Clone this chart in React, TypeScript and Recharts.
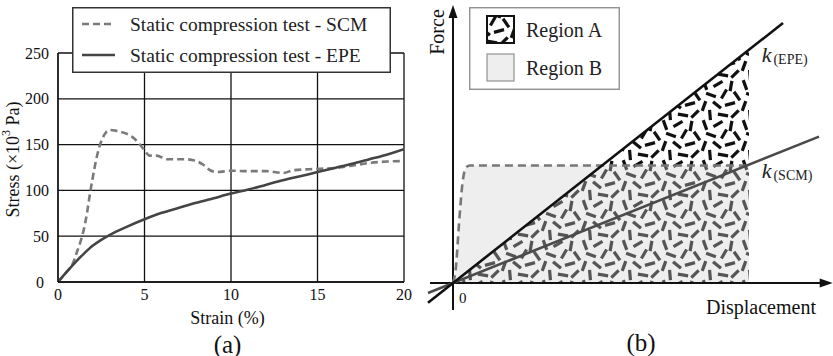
import React from 'react';
import {
  LineChart,
  Line,
  XAxis,
  YAxis,
  CartesianGrid,
  Legend,
  Label,
  ComposedChart,
  Area,
  ReferenceLine,
  ReferenceDot,
} from 'recharts';

const FONT = 'Liberation Serif, DejaVu Serif, serif';

// ---------- (a) static compression test: stress vs strain ----------
const strainTicks = [0, 5, 10, 15, 20];
const stressTicks = [0, 50, 100, 150, 200, 250];

const scmStrain = [
  0, 0.5, 0.85, 1.1, 1.3, 1.5, 1.7, 1.85, 2.0, 2.2, 2.4, 2.6, 2.8, 3.0, 3.4, 3.8, 4.25, 4.65, 4.95,
  5.3, 5.7, 6.3, 7.4, 8.0, 8.4, 8.8, 9.2, 10, 11, 12, 13, 13.6, 15, 16, 17, 18, 19, 20,
];
const scmStress = [
  0, 11, 20, 33, 44, 58, 78, 97, 113, 133, 148, 158, 164, 166, 165, 163, 159, 152, 145, 138, 138,
  134, 134, 132, 128, 122, 120, 121.5, 121, 121, 119, 122, 123.5, 124.5, 127, 130, 131.5, 132,
];

const epeStrain = [0, 0.5, 1, 1.5, 2, 2.5, 3, 4, 5, 6, 7, 8, 9, 10, 11, 12, 13, 14, 15, 16, 17, 18, 19, 20];
const epeStress = [
  0, 11, 21.5, 31, 39.5, 46, 51.5, 60.5, 68.5, 75.5, 81, 86.5, 91.5, 96.5, 101, 106, 111, 115.5,
  120, 124.5, 129, 134, 139, 145,
];

const seriesNames = ['Static compression test - SCM', 'Static compression test - EPE'];

const scmRows = scmStrain.map((s, i) => ({ strain: s, stress: scmStress[i] }));
const epeRows = epeStrain.map((s, i) => ({ strain: s, stress: epeStress[i] }));

// ---------- (b) force vs displacement schematic ----------
const regionNames = ['Region A', 'Region B'];

// dashed SCM response bounding Region B
const scmCurveDisp = [0, 0.25, 0.65, 0.95, 1.15, 1.35, 1.7, 29.6];
const scmCurveForce = [0, 1.2, 6.6, 10, 11.2, 11.6, 11.75, 11.75];

// stiffness lines
const epeLineDisp = [-2.5, 33];
const epeLineForce = [-1.97, 26];
const scmLineDisp = [-2.5, 36.6];
const scmLineForce = [-1.0, 14.64];

// Region A: triangle under k(EPE), split at the SCM plateau
const regionALowerDisp = [0, 14.9, 29.6];
const regionALowerForce = [0, 11.75, 11.75];
const regionAUpperDisp = [14.9, 29.6];
const regionAUpperLow = [11.75, 11.75];
const regionAUpperHigh = [11.75, 23.3];

const scmCurveRows = scmCurveDisp.map((d, i) => ({ d, f: scmCurveForce[i] }));
const epeLineRows = epeLineDisp.map((d, i) => ({ d, f: epeLineForce[i] }));
const scmLineRows = scmLineDisp.map((d, i) => ({ d, f: scmLineForce[i] }));
const regionALowerRows = regionALowerDisp.map((d, i) => ({ d, f: regionALowerForce[i] }));
const regionAUpperRows = regionAUpperDisp.map((d, i) => ({
  d,
  f: [regionAUpperLow[i], regionAUpperHigh[i]],
}));

// ---------- hatch texture of short random dashes ----------
const TILE = 40;
const DASH_HALF = 5.2;
const dashMarks: [number, number, number][] = [
  [5, 5, 70], [18, 4, 150], [31, 6, 100],
  [11, 15, 20], [24, 14, 120], [37, 16, 55],
  [4, 26, 110], [17, 25, 40], [30, 24, 165],
  [10, 35, 85], [23, 35, 10], [35, 34, 135],
];
const OFFSETS = [-TILE, 0, TILE];

const DashPattern = ({ id, color }: { id: string; color: string }) => (
  <pattern id={id} width={TILE} height={TILE} patternUnits="userSpaceOnUse">
    {OFFSETS.flatMap((ox) =>
      OFFSETS.flatMap((oy) =>
        dashMarks.map(([cx, cy, a], i) => {
          const r = (a * Math.PI) / 180;
          const dx = Math.cos(r) * DASH_HALF;
          const dy = Math.sin(r) * DASH_HALF;
          return (
            <line
              key={`${ox}_${oy}_${i}`}
              x1={cx + ox - dx}
              y1={cy + oy - dy}
              x2={cx + ox + dx}
              y2={cy + oy + dy}
              stroke={color}
              strokeWidth={3.2}
            />
          );
        }),
      ),
    )}
  </pattern>
);

const SharedDefs = () => (
  <svg width={0} height={0} style={{ position: 'absolute', left: 0, top: 0 }} aria-hidden="true">
    <defs>
      <DashPattern id="dashBlack" color="#111" />
      <DashPattern id="dashGray" color="#555" />
    </defs>
  </svg>
);

// ---------- (a) pieces ----------
const StressTick = (props: any) => {
  const { x, y, payload } = props;
  return (
    <text
      x={x - (payload.value === 0 ? 14 : 9)}
      y={y}
      textAnchor="end"
      dominantBaseline="central"
      fontSize={16}
      fontFamily={FONT}
      fill="#111"
    >
      {payload.value}
    </text>
  );
};

const StrainTick = (props: any) => {
  const { x, y, payload } = props;
  return (
    <text
      x={x}
      y={y + 12.5}
      textAnchor="middle"
      dominantBaseline="central"
      fontSize={16}
      fontFamily={FONT}
      fill="#111"
    >
      {payload.value}
    </text>
  );
};

const StressLabel = (props: any) => {
  const vb = props.viewBox || { x: 0, y: 53, width: 58, height: 229 };
  const cx = 13;
  const cy = vb.y + vb.height / 2 - 8;
  return (
    <text
      x={cx}
      y={cy}
      transform={`rotate(-90 ${cx} ${cy})`}
      textAnchor="middle"
      dominantBaseline="central"
      fontSize={18}
      fontFamily={FONT}
      fill="#111"
    >
      Stress (×10
      <tspan dy={-7} fontSize={12}>
        3
      </tspan>
      <tspan dy={7}> Pa)</tspan>
    </text>
  );
};

const StrainLabel = (props: any) => {
  const vb = props.viewBox || { x: 58, y: 282, width: 346, height: 74 };
  return (
    <text
      x={vb.x + vb.width / 2 - 3.5}
      y={vb.y + 36}
      textAnchor="middle"
      dominantBaseline="central"
      fontSize={18}
      fontFamily={FONT}
      fill="#111"
    >
      Strain (%)
    </text>
  );
};

const PanelALabel = (props: any) => {
  const vb = props.viewBox || { x: 58, y: 282, width: 346, height: 74 };
  return (
    <text
      x={vb.x + vb.width / 2 - 3.5}
      y={vb.y + 62}
      textAnchor="middle"
      dominantBaseline="central"
      fontSize={25}
      fontFamily={FONT}
      fill="#111"
    >
      (a)
    </text>
  );
};

const LegendA = (props: any) => {
  const payload = props.payload || [];
  return (
    <svg width={319} height={66} style={{ display: 'block' }}>
      <rect x={0.75} y={0.75} width={317.5} height={64.5} fill="#fff" stroke="#333" strokeWidth={1.5} />
      {seriesNames.map((name, i) => {
        const entry = payload.find((e: any) => e.value === name) || {};
        const cy = 17 + i * 31;
        const dashed = entry.payload && entry.payload.strokeDasharray;
        return (
          <g key={name}>
            <line
              x1={10}
              x2={43}
              y1={cy}
              y2={cy}
              stroke={entry.color || '#555'}
              strokeWidth={2.6}
              strokeDasharray={dashed || undefined}
            />
            <text x={58} y={cy} dominantBaseline="central" fontSize={19.5} fontFamily={FONT} fill="#222">
              {name}
            </text>
          </g>
        );
      })}
    </svg>
  );
};

// ---------- (b) pieces ----------
const LegendB = () => (
  <svg width={151} height={83} style={{ display: 'block' }}>
    <rect x={0.75} y={0.75} width={149.5} height={81.5} fill="#fff" stroke="#888" strokeWidth={1.3} />
    <rect x={18} y={9} width={27} height={27} fill="url(#dashBlack)" stroke="#111" strokeWidth={2} />
    <text x={57} y={23} dominantBaseline="central" fontSize={20} fontFamily={FONT} fill="#222">
      {regionNames[0]}
    </text>
    <rect x={18} y={47} width={27} height={27} fill="#eeeeee" stroke="#999" strokeWidth={1.3} />
    <text x={57} y={61} dominantBaseline="central" fontSize={20} fontFamily={FONT} fill="#222">
      {regionNames[1]}
    </text>
  </svg>
);

const ArrowRight = (p: any) => (
  <polygon points={`${p.cx},${p.cy} ${p.cx - 13},${p.cy - 4.5} ${p.cx - 13},${p.cy + 4.5}`} fill="#111" />
);
const ArrowUp = (p: any) => (
  <polygon points={`${p.cx},${p.cy} ${p.cx - 4.5},${p.cy + 13} ${p.cx + 4.5},${p.cy + 13}`} fill="#111" />
);

const textShape =
  (content: React.ReactNode, opts: { size: number; rotate?: boolean }) =>
  (p: any) =>
    (
      <text
        x={p.cx}
        y={p.cy}
        fontSize={opts.size}
        fontFamily={FONT}
        textAnchor="middle"
        dominantBaseline="central"
        fill="#111"
        transform={opts.rotate ? `rotate(-90 ${p.cx} ${p.cy})` : undefined}
      >
        {content}
      </text>
    );

const stiffnessLabel = (sub: string) => (p: any) =>
  (
    <text x={p.cx} y={p.cy} fill="#222" fontSize={22} fontFamily={FONT}>
      <tspan fontStyle="italic">k</tspan>
      <tspan fontSize={14} dx={2} dy={2}>
        {sub}
      </tspan>
    </text>
  );

export default function App() {
  return (
    <div
      style={{
        position: 'absolute',
        left: 0,
        top: 0,
        width: 833,
        height: 356,
        background: '#fff',
        fontFamily: FONT,
        overflow: 'hidden',
      }}
    >
      <SharedDefs />

      {/* (a) */}
      <div style={{ position: 'absolute', left: 0, top: 0 }}>
        <LineChart width={420} height={356} margin={{ top: 53, right: 16, bottom: 0, left: 0 }}>
          <CartesianGrid stroke="#111" strokeWidth={1.3} />
          <XAxis
            type="number"
            dataKey="strain"
            domain={[0, 20]}
            ticks={strainTicks}
            height={74}
            tickLine={false}
            tickSize={0}
            tickMargin={0}
            axisLine={{ stroke: '#111', strokeWidth: 1.3 }}
            tick={<StrainTick />}
            allowDataOverflow
          >
            <Label content={<StrainLabel />} />
            <Label content={<PanelALabel />} />
          </XAxis>
          <YAxis
            type="number"
            domain={[0, 250]}
            ticks={stressTicks}
            width={58}
            tickLine={false}
            tickSize={0}
            tickMargin={0}
            axisLine={{ stroke: '#111', strokeWidth: 1.3 }}
            tick={<StressTick />}
            allowDataOverflow
          >
            <Label content={<StressLabel />} />
          </YAxis>
          <Line
            data={scmRows}
            dataKey="stress"
            name={seriesNames[0]}
            type="monotone"
            stroke="#7a7a7a"
            strokeWidth={2.6}
            strokeDasharray="7 4"
            dot={false}
            activeDot={false}
            isAnimationActive={false}
          />
          <Line
            data={epeRows}
            dataKey="stress"
            name={seriesNames[1]}
            type="monotone"
            stroke="#444"
            strokeWidth={2.6}
            dot={false}
            activeDot={false}
            isAnimationActive={false}
          />
          <Legend
            layout="horizontal"
            verticalAlign="middle"
            align="center"
            content={<LegendA />}
            wrapperStyle={{ left: 72, top: 7, width: 319, height: 66 }}
          />
        </LineChart>
      </div>

      {/* (b) */}
      <div style={{ position: 'absolute', left: 420, top: 0 }}>
        <ComposedChart width={413} height={356} margin={{ top: 3, right: 0, bottom: 43, left: 3 }}>
          <XAxis type="number" dataKey="d" domain={[-3, 38]} hide allowDataOverflow />
          <YAxis type="number" domain={[-3, 28]} hide allowDataOverflow />
          <Area
            data={scmCurveRows}
            dataKey="f"
            name={regionNames[1]}
            type="monotone"
            baseValue={0}
            fill="#eeeeee"
            fillOpacity={1}
            stroke="none"
            isAnimationActive={false}
          />
          <Area
            data={regionALowerRows}
            dataKey="f"
            name={regionNames[0]}
            type="linear"
            baseValue={0}
            fill="url(#dashGray)"
            fillOpacity={1}
            stroke="none"
            isAnimationActive={false}
          />
          <Area
            data={regionAUpperRows}
            dataKey="f"
            type="linear"
            fill="url(#dashBlack)"
            fillOpacity={1}
            stroke="none"
            isAnimationActive={false}
          />
          <ReferenceLine
            segment={[
              { x: -2.3, y: 0 },
              { x: 37.2, y: 0 },
            ]}
            stroke="#111"
            strokeWidth={2}
            ifOverflow="visible"
          />
          <ReferenceLine
            segment={[
              { x: 0, y: -2.7 },
              { x: 0, y: 27 },
            ]}
            stroke="#111"
            strokeWidth={2}
            ifOverflow="visible"
          />
          <Line
            data={scmCurveRows}
            dataKey="f"
            type="monotone"
            stroke="#777"
            strokeWidth={2.6}
            strokeDasharray="8 5"
            dot={false}
            activeDot={false}
            isAnimationActive={false}
          />
          <Line
            data={scmLineRows}
            dataKey="f"
            type="linear"
            stroke="#4a4a4a"
            strokeWidth={2.6}
            dot={false}
            activeDot={false}
            isAnimationActive={false}
          />
          <Line
            data={epeLineRows}
            dataKey="f"
            type="linear"
            stroke="#111"
            strokeWidth={2.6}
            dot={false}
            activeDot={false}
            isAnimationActive={false}
          />
          <ReferenceDot x={37.97} y={0} ifOverflow="visible" shape={ArrowRight} />
          <ReferenceDot x={0} y={27.8} ifOverflow="visible" shape={ArrowUp} />
          <ReferenceDot x={30.87} y={22.1} ifOverflow="visible" shape={stiffnessLabel('(EPE)')} />
          <ReferenceDot x={30.87} y={10.5} ifOverflow="visible" shape={stiffnessLabel('(SCM)')} />
          <ReferenceDot x={-1.63} y={25.1} ifOverflow="visible" shape={textShape('Force', { size: 20, rotate: true })} />
          <ReferenceDot x={0.97} y={-1.5} ifOverflow="visible" shape={textShape('0', { size: 15 })} />
          <ReferenceDot x={30.8} y={-2.4} ifOverflow="visible" shape={textShape('Displacement', { size: 20 })} />
          <ReferenceDot x={18.8} y={-5.9} ifOverflow="visible" shape={textShape('(b)', { size: 25 })} />
          <Legend
            layout="horizontal"
            verticalAlign="middle"
            align="center"
            content={<LegendB />}
            wrapperStyle={{ left: 49, top: 7, width: 151, height: 83 }}
          />
        </ComposedChart>
      </div>
    </div>
  );
}
